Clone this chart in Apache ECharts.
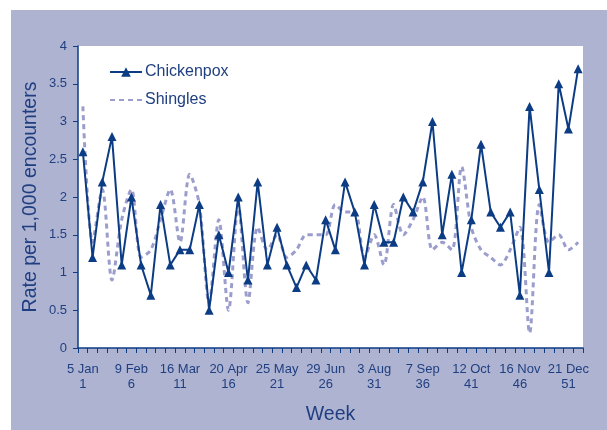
<!DOCTYPE html>
<html><head><meta charset="utf-8">
<script src="https://cdn.jsdelivr.net/npm/echarts@6/dist/echarts.min.js"></script>
<style>html,body{margin:0;padding:0;background:#fff}#c{width:607px;height:430px}</style>
</head><body><div id="c"></div>
<script>
const weeks = Array.from({length:52},(_,i)=>String(i+1));
const dateLabels = ['5 Jan','9 Feb','16 Mar','20 Apr','25 May','29 Jun','3 Aug','7 Sep','12 Oct','16 Nov','21 Dec'];
const chickenpox = [2.6,1.2,2.2,2.8,1.1,2.0,1.1,0.7,1.9,1.1,1.3,1.3,1.9,0.5,1.5,1.0,2.0,0.9,2.2,1.1,1.6,1.1,0.8,1.1,0.9,1.7,1.3,2.2,1.8,1.1,1.9,1.4,1.4,2.0,1.8,2.2,3.0,1.5,2.3,1.0,1.7,2.7,1.8,1.6,1.8,0.7,3.2,2.1,1.0,3.5,2.9,3.7];
const shingles = [3.2,1.4,2.1,0.9,1.7,2.1,1.2,1.3,1.7,2.1,1.4,2.3,1.9,0.6,1.7,0.5,1.9,0.6,1.6,1.3,1.5,1.2,1.3,1.5,1.5,1.5,1.9,1.8,1.8,1.2,1.5,1.1,1.9,1.5,1.7,2.0,1.3,1.4,1.3,2.4,1.6,1.3,1.2,1.1,1.3,1.6,0.2,1.9,1.4,1.5,1.3,1.4];
const yTicks = ['0','0.5','1','1.5','2','2.5','3','3.5','4'];

const navy = '#0c3c84';
const txt = '#1f3f80';
const chart = echarts.init(document.getElementById('c'));
chart.setOption({
  backgroundColor:'#ffffff',
  animation:false,
  graphic:[{type:'rect',shape:{x:11,y:10,width:596,height:420},style:{fill:'#afb3d2'},z:-10}],
  grid:{left:78,top:46,right:24,bottom:82,show:true,backgroundColor:'#ffffff',borderWidth:0},
  legend:{orient:'vertical',left:104,top:59,itemWidth:32,itemHeight:12,itemGap:12,
    textStyle:{color:txt,fontSize:16,fontFamily:'Liberation Sans, Arial',padding:[0,0,0,-2]},
    data:[{name:'Chickenpox'},{name:'Shingles',itemStyle:{opacity:0}}]},
  xAxis:{type:'category',data:weeks,boundaryGap:true,
    axisLine:{lineStyle:{color:navy,width:1.5}},
    axisTick:{show:true,interval:0,length:5,lineStyle:{color:navy}},
    axisLabel:{interval:4,margin:14,color:txt,fontSize:13,lineHeight:15,fontFamily:'Liberation Sans, Arial',
      formatter:(v,i)=>dateLabels[i/5]+'\n'+v},
    name:'Week',nameLocation:'middle',nameGap:57,
    nameTextStyle:{color:txt,fontSize:19.5,fontFamily:'Liberation Sans, Arial'}},
  yAxis:{type:'value',min:0,max:4,interval:0.5,splitLine:{show:false},
    axisLine:{show:true,lineStyle:{color:navy,width:1.5}},
    axisTick:{show:true,length:5,lineStyle:{color:navy}},
    axisLabel:{margin:11,color:txt,fontSize:13,fontFamily:'Liberation Sans, Arial',formatter:(v)=>yTicks[Math.round(v*2)]},
    name:'Rate per 1,000 encounters',nameLocation:'middle',nameGap:37,nameMoveOverlap:false,
    nameTextStyle:{color:txt,fontSize:19.5,fontFamily:'Liberation Sans, Arial'}},
  series:[
    {name:'Shingles',type:'line',data:shingles,smooth:0.3,symbol:'none',z:1,
      lineStyle:{color:'#9b9ecc',width:3,type:[5,4]},itemStyle:{color:'#9b9ecc'}},
    {name:'Chickenpox',type:'line',data:chickenpox,symbol:'triangle',symbolSize:9,showAllSymbol:true,z:2,
      lineStyle:{color:navy,width:2},itemStyle:{color:navy}}
  ]
});
</script></body></html>
